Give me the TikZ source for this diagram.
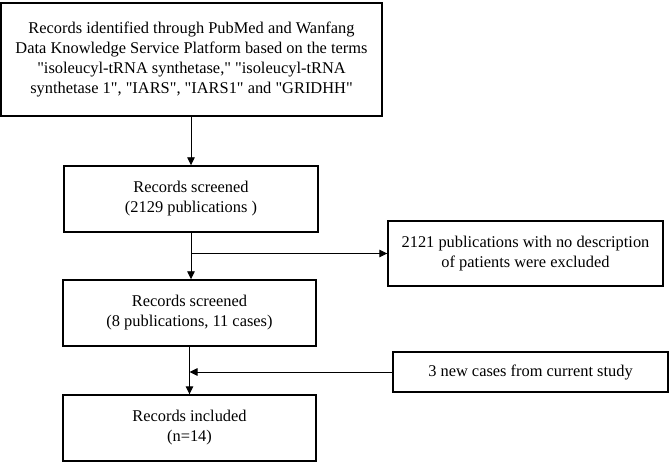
\documentclass[tikz,border=0pt]{standalone}
\usepackage{fontspec}
\setmainfont{Liberation Serif}[Ligatures=TeXOff]
\usetikzlibrary{arrows.meta}
\begin{document}
\begin{tikzpicture}[x=1pt,y=-1pt,
  box/.style={draw=black,line width=1.4pt,rectangle,align=center,inner sep=0pt,
    font=\fontsize{16.4}{20}\selectfont},
  conn/.style={draw=black,line width=0.9pt},
  arr/.style={conn,-{Triangle[length=8pt,width=7.5pt]}}]
\useasboundingbox (0,0) rectangle (669,462);
\node[box,minimum width=381pt,minimum height=113pt] (top) at (191.5,59.5)
  {Records identified through PubMed and Wanfang\\
   Data Knowledge Service Platform based on the terms\\
   "isoleucyl-tRNA synthetase," "isoleucyl-tRNA\\
   synthetase 1", "IARS", "IARS1" and "GRIDHH"};
\node[box,minimum width=254pt,minimum height=66pt] (s1) at (191,199)
  {Records screened\\(2129 publications )};
\node[box,minimum width=253pt,minimum height=66pt] (s2) at (189.5,313)
  {Records screened\\(8 publications, 11 cases)};
\node[box,minimum width=253pt,minimum height=66pt] (inc) at (189.5,428)
  {Records included\\(n=14)};
\node[box,minimum width=275pt,minimum height=65pt] (ex) at (525.5,253.5)
  {2121 publications with no description\\of patients were excluded};
\node[box,minimum width=275pt,minimum height=40pt] (new) at (530.5,372)
  {3 new cases from current study};
\draw[arr] (top.south -| s1.north) -- (s1.north);
\draw[arr] (s1.south) -- (s1.south |- s2.north);
\coordinate (j1) at (s1.south |- ex.west);
\draw[arr] (j1) -- (ex.west);
\draw[arr] (s2.south) -- (inc.north);
\coordinate (j2) at (s2.south |- new.west);
\draw[arr] (new.west) -- (j2);
\end{tikzpicture}
\end{document}
